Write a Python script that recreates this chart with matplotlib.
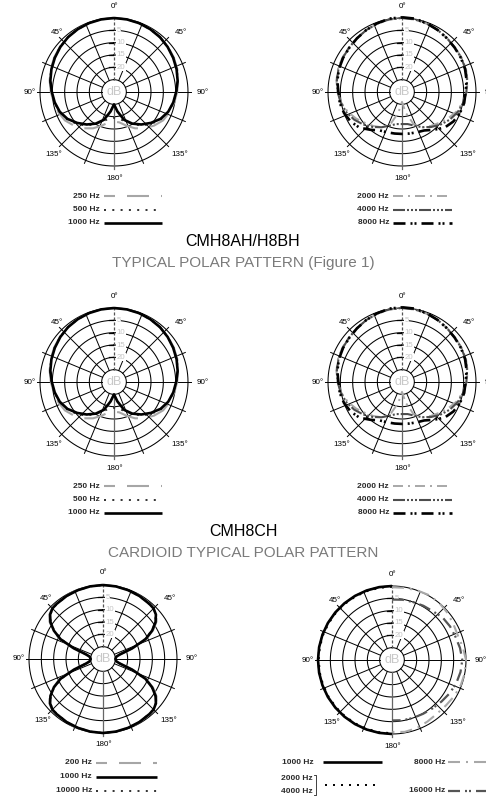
import numpy as np
import matplotlib
matplotlib.use('Agg')
import matplotlib.pyplot as plt

W, H, DPI = 486, 801, 100
plt.rcParams['font.family'] = ['Liberation Sans', 'DejaVu Sans']
plt.rcParams['lines.scale_dashes'] = False

# ---------------- data (dB, angles in degrees, half patterns 0..180) ----------------
ANG = [0, 10, 20, 30, 40, 50, 60, 70, 80, 90, 100, 110, 120, 130, 140, 150, 160, 170, 180]

# CMH8AH/H8BH and CMH8CH, low frequencies
a_250 = [0, -0.1, -0.3, -0.5, -0.9, -1.4, -2.0, -2.7, -3.5, -4.4, -5.2, -6.0, -7.0, -8.8, -10.8, -13, -15.5, -17.5, -18]
a_500 = [0, -0.1, -0.3, -0.6, -1.0, -1.5, -2.2, -2.9, -3.7, -4.6, -5.5, -6.5, -8.0, -10.0, -12.2, -15, -17.5, -19, -19.5]
a_1000 = [0, -0.1, -0.3, -0.6, -1.0, -1.6, -2.3, -3.0, -3.8, -4.8, -5.6, -6.6, -8.2, -10.5, -12.8, -15.2, -18, -22, -25]

# high frequencies
b_2000 = [0, -0.2, -0.6, -1.0, -1.5, -1.9, -2.1, -2.4, -3.0, -3.8, -5.0, -6.6, -8.5, -10.5, -12, -13.5, -16, -21.5, -26]
b_4000 = [0, -0.1, -0.5, -1.0, -1.6, -2.0, -2.3, -2.6, -3.2, -3.9, -4.8, -6.0, -7.6, -9.5, -11.5, -13.5, -15.5, -16.8, -17]
b_8000 = [0.3, 0.2, -0.4, -1.0, -1.6, -2.1, -2.4, -2.8, -3.4, -4.2, -4.4, -5.0, -6.0, -7.5, -10, -12, -12.6, -12.9, -13]

# figure-8 (quarter pattern 0..90)
ANG_C = [0, 10, 20, 30, 40, 45, 50, 55, 60, 65, 70, 75, 80, 90]
c_200 = [0, -0.1, -0.2, -0.4, -0.7, -0.9, -1.7, -3.5, -6.5, -10.5, -17, -22.5, -24.5, -25]
c_1000 = [0, -0.1, -0.3, -0.5, -0.8, -1.0, -2.0, -4.0, -7.0, -11, -17.5, -23, -24.5, -25]
c_10000 = [0, -0.1, -0.3, -0.5, -0.9, -1.1, -2.1, -4.1, -7.2, -11.5, -18, -23, -24.5, -25]

# half-omni: left half (1000, 2000/4000) and right half (8000, 16000)
d_1000 = [0, 0, 0, 0, 0, 0, 0, 0, 0, 0, 0, 0, 0, 0, 0, 0, 0, 0, 0]
d_2000_4000 = [-0.3, -0.3, -0.3, -0.3, -0.3, -0.3, -0.3, -0.3, -0.3, -0.3, -0.3, -0.3, -0.3, -0.3, -0.3, -0.3, -0.3, -0.3, -0.3]
d_8000 = [-0.5, -0.3, 0, 0.3, 0, -0.5, -1.2, -1.5, -0.8, 0, 0, -0.3, -0.8, -1.4, -1.6, -1.2, -0.6, -0.4, -0.8]
d_16000 = [-5.5, -5.2, -5.0, -4.6, -4.2, -3.2, -2.8, -2.6, -2.0, -1.5, -1.8, -2.3, -3.0, -3.8, -4.4, -4.8, -5.0, -5.2, -5.5]

LEG_A = ['250 Hz', '500 Hz', '1000 Hz']
LEG_B = ['2000 Hz', '4000 Hz', '8000 Hz']
LEG_C = ['200 Hz', '1000 Hz', '10000 Hz']
TITLES = [('CMH8AH/H8BH', 'TYPICAL POLAR PATTERN (Figure 1)'),
          ('CMH8CH', 'CARDIOID TYPICAL POLAR PATTERN')]

# ---------------- styles ----------------
P = 0.72  # px -> pt
S_LGRAY_DASH = dict(color='#a6a6a6', lw=1.5, ls=(0, (22 * P, 12 * P)))
S_DOT = dict(color='#333333', lw=1.4, ls=(0, (2 * P, 6.3 * P)))
S_SOLID = dict(color='black', lw=1.9, ls='-')
S_2000 = dict(color='#a8a8a8', lw=1.4, ls=(0, (10 * P, 5 * P, 2 * P, 5 * P)))
S_4000 = dict(color='#4d4d4d', lw=1.5, ls=(0, (12 * P, 2 * P, 2 * P, 2 * P, 2 * P, 2 * P, 2 * P, 2 * P)))
S_8000 = dict(color='black', lw=1.9, ls=(0, (12 * P, 5 * P, 2 * P, 2 * P, 2 * P, 5 * P)))
S_D8000 = dict(color='#a8a8a8', lw=1.5, ls=(0, (12 * P, 6 * P, 2 * P, 6 * P)))
S_D16000 = dict(color='#555555', lw=1.6, ls=(0, (12 * P, 5 * P, 2 * P, 2 * P, 2 * P, 5 * P)))

R = 74.0
fig = plt.figure(figsize=(W / DPI, H / DPI), dpi=DPI)
fig.patch.set_facecolor('white')


def make_ax(cx, cy):
    ax = fig.add_axes([(cx - R) / W, (H - cy - R) / H, 2 * R / W, 2 * R / H], projection='polar')
    ax.set_theta_zero_location('N')
    ax.set_theta_direction(-1)
    ax.set_ylim(-30, 0)
    ax.axis('off')
    draw_grid(ax)
    return ax


def px(ax, dx, dy):
    return 0.5 + dx / (2 * R), 0.5 - dy / (2 * R)


def draw_grid(ax):
    th = np.linspace(0, 2 * np.pi, 361)
    for r in [-25, -20, -15, -10, -5, 0]:
        ax.plot(th, [r] * len(th), color='black', lw=0.75, clip_on=False, zorder=1)
    for k in range(16):
        a = np.deg2rad(k * 22.5)
        ext = 0 if k in (0, 1, 15) else 1.3
        if k == 0:
            ax.plot([a, a], [-25, 0], color='#555555', lw=0.9, ls=(0, (2.2, 1.4)), clip_on=False, zorder=1)
        elif k == 8:
            ax.plot([a, a], [-25, ext], color='#666666', lw=0.9, clip_on=False, zorder=1)
        else:
            ax.plot([a, a], [-25, ext], color='black', lw=0.7, clip_on=False, zorder=1)
    for r in [-5, -10, -15, -20]:
        ypx = R * (r + 30) / 30
        x0, y0 = px(ax, -5, -ypx)
        x1, _ = px(ax, -1, -ypx)
        ax.plot([x0, x1], [y0, y0], transform=ax.transAxes, color='black', lw=0.9, clip_on=False, zorder=3)
        tx, ty = px(ax, 2.5, -ypx)
        ax.text(tx, ty, str(-r), transform=ax.transAxes, fontsize=5.6, color='#c4c4c4',
                ha='left', va='center', zorder=3,
                bbox=dict(fc='white', ec='none', pad=0.4))
    ax.text(0.5, 0.5, 'dB', transform=ax.transAxes, fontsize=9, color='#c8c8c8',
            ha='center', va='center', zorder=3)
    labels = [('0°', 1, -86), ('45°', -57, -60), ('45°', 67, -60), ('90°', -84, 0), ('90°', 89, 0),
              ('135°', -60, 62), ('135°', 66, 62), ('180°', 1, 86)]
    for t, dx, dy in labels:
        x, y = px(ax, dx, dy)
        ax.text(x, y, t, transform=ax.transAxes, fontsize=5.8, color='black',
                ha='center', va='center', clip_on=False)


def sym(angles, vals):
    th = list(angles) + [360 - a for a in angles[::-1][1:]]
    rr = list(vals) + list(vals[::-1][1:])
    return np.deg2rad(th), rr


def fig8(angles, vals):
    half_a = list(angles) + [180 - a for a in angles[::-1][1:]]
    half_v = list(vals) + list(vals[::-1][1:])
    return sym(half_a, half_v)


def curve(ax, th, rr, style, z=4):
    ax.plot(th, rr, clip_on=False, zorder=z, solid_capstyle='butt', dash_capstyle='butt', **style)


# ---------------- polar plots ----------------
for row_off in (0, 290):
    axA = make_ax(114, 92 + row_off)
    curve(axA, *sym(ANG, a_250), S_LGRAY_DASH)
    curve(axA, *sym(ANG, a_500), S_DOT)
    curve(axA, *sym(ANG, a_1000), S_SOLID, z=5)

    axB = make_ax(402, 92 + row_off)
    curve(axB, *sym(ANG, b_2000), S_2000)
    curve(axB, *sym(ANG, b_4000), S_4000)
    curve(axB, *sym(ANG, b_8000), S_8000, z=5)

axC = make_ax(103, 659)
curve(axC, *fig8(ANG_C, c_200), S_LGRAY_DASH)
curve(axC, *fig8(ANG_C, c_10000), S_DOT)
curve(axC, *fig8(ANG_C, c_1000), S_SOLID, z=5)

axD = make_ax(392, 660)
curve(axD, np.deg2rad([360 - a for a in ANG]), d_1000, S_SOLID, z=5)
curve(axD, np.deg2rad([360 - a for a in ANG]), d_2000_4000, dict(color='black', lw=1.4, ls=(0, (2 * P, 6 * P))))
curve(axD, np.deg2rad(ANG), d_8000, S_D8000)
curve(axD, np.deg2rad(ANG), d_16000, S_D16000)

# ---------------- legends and titles (pixel overlay) ----------------
ov = fig.add_axes([0, 0, 1, 1])
ov.set_xlim(0, W)
ov.set_ylim(H, 0)
ov.axis('off')

LFS = 6.0
LTXT = dict(fontsize=LFS, color='#2a2a2a', fontweight='bold')


def leg(x_text, x0, x1, y, label, style, offset=0):
    ov.text(x_text, y, label, ha='right', va='center', **LTXT)
    st = dict(style)
    if offset and isinstance(st['ls'], tuple):
        st['ls'] = (offset, st['ls'][1])
    ov.plot([x0, x1], [y, y], solid_capstyle='butt', dash_capstyle='butt', clip_on=False, **st)


for i, row_off in enumerate((0, 290)):
    ys = [196 + row_off, 209.5 + row_off, 223 + row_off]
    for lab, y, st, off in zip(LEG_A, ys, [S_LGRAY_DASH, S_DOT, S_SOLID], [11 * P, 0, 0]):
        leg(100, 104, 162, y, lab, st, off)
    for lab, y, st in zip(LEG_B, ys, [S_2000, S_4000, S_8000]):
        leg(389, 393, 452, y, lab, st)
    t1, t2 = TITLES[i]
    ov.text(243, 241 + row_off, t1, fontsize=11.5, color='black', ha='center', va='center')
    ov.text(243, 263 + row_off, t2, fontsize=11, color='#7a7a7a', ha='center', va='center')

ys3 = [763, 777, 791]
for lab, y, st, off in zip(LEG_C, ys3, [S_LGRAY_DASH, S_SOLID, S_DOT], [11 * P, 0, 0]):
    leg(92, 96, 157, y, lab, st, off)

leg(314, 323, 382, 762, '1000 Hz', S_SOLID)
ov.text(313, 778, '2000 Hz', ha='right', va='center', **LTXT)
ov.text(313, 791.5, '4000 Hz', ha='right', va='center', **LTXT)
ov.plot([313.5, 316, 316, 313.5], [774.5, 774.5, 795, 795], color='#222222', lw=0.6)
ov.plot([325, 380], [785, 785], color='black', lw=1.4, ls=(0, (2 * P, 6 * P)), dash_capstyle='butt')
leg(445, 448, 495, 762, '8000 Hz', S_D8000)
leg(445, 448, 495, 791, '16000 Hz', S_D16000)

fig.savefig('out.png', dpi=DPI, facecolor='white')
